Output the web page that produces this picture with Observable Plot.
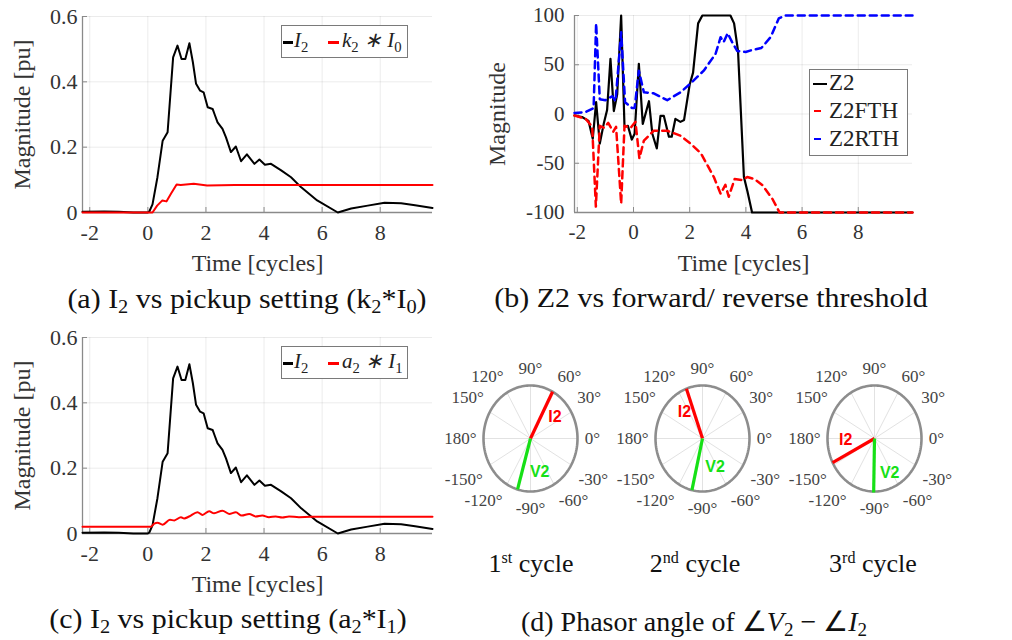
<!DOCTYPE html>
<html>
<head>
<meta charset="utf-8">
<script src="https://cdn.jsdelivr.net/npm/d3@7"></script>
<script src="https://cdn.jsdelivr.net/npm/@observablehq/plot@0.6"></script>
<style>
html,body{margin:0;padding:0;background:#fff;}
#fig{position:relative;width:1012px;height:640px;overflow:hidden;background:#fff;}
.panel{position:absolute;}
.panel svg{display:block;overflow:visible;}
.cap{position:absolute;line-height:1;text-align:center;white-space:nowrap;color:#111;font-family:"Liberation Serif",serif;transform-origin:50% 80%;}
.cap sub{font-size:0.68em;vertical-align:baseline;position:relative;top:0.3em;line-height:0;}
.cap sup{font-size:0.62em;vertical-align:baseline;position:relative;top:-0.55em;line-height:0;}
.leg{position:absolute;border:1px solid #7a7a7a;background:#fff;box-sizing:border-box;}
.lt{position:absolute;line-height:1;white-space:nowrap;color:#222;font-family:"Liberation Serif",serif;}
.lt sub{font-size:0.7em;position:relative;top:0.3em;vertical-align:baseline;line-height:0;font-style:normal;}
.sw{position:absolute;}
</style>
</head>
<body>
<div id="fig"></div>
<script>
// ---------------- data ----------------
const xTicks = [-2, 0, 2, 4, 6, 8];
const magTicks = [0, 0.2, 0.4, 0.6];
const z2Ticks = [-100, -50, 0, 50, 100];

// I2 magnitude (panels a and c)
const i2T = [-2.25, -1.5, -1.0, -0.5, 0, 0.05, 0.16, 0.33, 0.51, 0.68, 0.87, 1.02, 1.16, 1.29, 1.43, 1.55, 1.66, 1.80, 1.92, 2.06, 2.23, 2.30, 2.40, 2.57, 2.69, 2.86, 3.03, 3.21, 3.41, 3.67, 3.84, 4.03, 4.24, 4.59, 4.93, 5.28, 5.83, 6.54, 7.0, 7.57, 8.15, 8.72, 9.2, 9.8];
const i2V = [0.002, 0.003, 0.002, 0.0, 0.0, 0.003, 0.025, 0.108, 0.22, 0.246, 0.475, 0.511, 0.47, 0.47, 0.518, 0.46, 0.394, 0.373, 0.368, 0.322, 0.317, 0.30, 0.276, 0.256, 0.23, 0.185, 0.202, 0.157, 0.178, 0.149, 0.162, 0.146, 0.149, 0.129, 0.108, 0.077, 0.037, 0.0, 0.012, 0.021, 0.030, 0.028, 0.022, 0.014];

// k2*I0 (panel a)
const k2I0T = [-2.25, 0, 0.16, 0.32, 0.50, 0.64, 0.80, 0.99, 1.13, 1.58, 2.04, 3.0, 4.0, 6.0, 9.8];
const k2I0V = [0.0, 0.0, 0.0, 0.021, 0.037, 0.034, 0.058, 0.086, 0.084, 0.088, 0.083, 0.084, 0.084, 0.084, 0.084];

// a2*I1 (panel c)
const a2I1T = [-2.25, 0.10, 0.22, 0.33, 0.51, 0.76, 0.91, 1.14, 1.25, 1.42, 1.71, 1.88, 2.11, 2.28, 2.57, 2.80, 3.03, 3.23, 3.49, 3.71, 3.94, 4.17, 4.40, 4.63, 4.86, 5.2, 5.6, 9.8];
const a2I1V = [0.021, 0.021, 0.030, 0.033, 0.027, 0.042, 0.040, 0.050, 0.046, 0.052, 0.065, 0.057, 0.068, 0.062, 0.070, 0.060, 0.065, 0.055, 0.060, 0.052, 0.055, 0.050, 0.052, 0.049, 0.052, 0.050, 0.051, 0.051];

// Z2 (panel b)
const z2T = [-2.1, -1.83, -1.6, -1.45, -1.33, -1.2, -1.06, -0.94, -0.82, -0.70, -0.58, -0.44, -0.32, -0.2, -0.06, 0.04, 0.19, 0.33, 0.55, 0.67, 0.83, 0.96, 1.08, 1.26, 1.36, 1.49, 1.67, 1.8, 2.0, 2.12, 2.3, 2.45, 3.45, 3.58, 3.72, 3.93, 4.05, 4.22, 9.93];
const z2V = [-1.5, -3, -7, -25, 12, -30, -10, 4, 56, 3, 20, 100, -13, -12, -26, -20, 51, -10, 13, -20, -35, -2, -2, -23, -23, -5, -8, -6, 30, 42, 92, 100, 100, 92, 64, -64, -78, -100, -100];

// Z2FTH (panel b)
const z2fT = [-2.1, -1.7, -1.47, -1.34, -1.2, -1.05, -0.9, -0.72, -0.62, -0.44, -0.32, -0.1, 0.07, 0.21, 0.37, 0.72, 1.2, 1.67, 2.03, 2.4, 2.86, 3.1, 3.27, 3.39, 3.6, 3.85, 4.05, 4.3, 4.58, 4.94, 5.2, 9.93];
const z2fV = [-1.5, -5, -13, -94, -12, -14, -9, -18, -13, -91, -12, -14, -8, -45, -27, -17, -17, -22, -30, -40, -64, -81, -72, -84, -66, -67, -64, -66, -72, -86, -100, -100];

// Z2RTH (panel b)
const z2rT = [-2.1, -1.7, -1.42, -1.33, -1.2, -1.0, -0.76, -0.64, -0.44, -0.3, -0.05, 0.04, 0.19, 0.37, 0.72, 1.2, 1.67, 2.03, 2.5, 2.92, 3.1, 3.21, 3.35, 3.51, 3.69, 3.99, 4.22, 4.55, 4.88, 5.17, 5.4, 9.93];
const z2rV = [1, 2, 6, 92, 15, 14, 18, 13, 83, 12, 6, 6, 44, 22, 21, 14, 22, 31, 44, 61, 78, 73, 82, 73, 64, 63, 65, 67, 78, 97, 100, 100];

// Phasors (panel d)
const cycleLabels = ["1<sup>st</sup> cycle", "2<sup>nd</sup> cycle", "3<sup>rd</sup> cycle"];
const polarTicks = [0, 30, 60, 90, 120, 150, 180, -150, -120, -90, -60, -30];
const i2Angle = [62, 110, 207];
const v2Angle = [-106, -103, -91];
const i2Mag = [1.0, 1.0, 1.0];
const v2Mag = [1.0, 1.0, 1.02];

// ---------------- layout / style ----------------
const RED = "#ff0000", BLUE = "#0000ff", GREEN = "#16e016";
const AX = "#8a8a8a";
const SERIF = "Liberation Serif";
const fig = document.getElementById("fig");
const zip = (t, v) => t.map((d, i) => ({t: d, v: v[i]}));

function place(node, left, top) {
  const d = document.createElement("div");
  d.className = "panel";
  d.style.left = left + "px";
  d.style.top = top + "px";
  d.appendChild(node);
  fig.appendChild(d);
}

function lineChart(o) {
  const pw = o.width - o.ml - o.mr, ph = o.height - o.mt - o.mb;
  const tlx = (o.xDomain[1] - o.xDomain[0]) * 5 / pw;
  const tly = (o.yDomain[1] - o.yDomain[0]) * 5 / ph;
  return Plot.plot({
    width: o.width, height: o.height,
    marginLeft: o.ml, marginRight: o.mr, marginTop: o.mt, marginBottom: o.mb,
    x: {domain: o.xDomain},
    y: {domain: o.yDomain},
    style: {fontFamily: SERIF, background: "transparent", overflow: "visible"},
    marks: [
      Plot.gridX(xTicks, {stroke: "#000", strokeOpacity: 0.08}),
      Plot.gridY(o.yTicks, {stroke: "#000", strokeOpacity: 0.08}),
      Plot.ruleY([o.yDomain[0]], {stroke: AX, strokeWidth: 1.3}),
      Plot.ruleX([o.xDomain[0]], {stroke: AX, strokeWidth: 1.3}),
      Plot.ruleX(xTicks, {x: d => d, y1: o.yDomain[0], y2: o.yDomain[0] + tly, stroke: AX}),
      Plot.ruleY(o.yTicks, {y: d => d, x1: o.xDomain[0], x2: o.xDomain[0] + tlx, stroke: AX}),
      ...o.series.map(s => Plot.line(zip(s.t, s.v), {
        x: "t", y: "v", stroke: s.color, strokeWidth: s.width,
        strokeDasharray: s.dash, curve: s.curve || "linear", strokeLinejoin: "round"
      })),
      Plot.axisX(xTicks, {tickSize: 0, tickPadding: 12, tickFormat: d => String(d), fontSize: o.tickFont, fontFamily: SERIF, color: "#333", label: null}),
      Plot.axisY(o.yTicks, {tickSize: 0, tickPadding: o.yPad, tickFormat: d => String(d), fontSize: o.tickFont, fontFamily: SERIF, color: "#333", label: null}),
      Plot.text(["Time [cycles]"], {frameAnchor: "bottom", lineAnchor: "middle", textAnchor: "middle", dy: 51, fontSize: 24, fontFamily: SERIF, fill: "#333"}),
      Plot.text([o.yLabel], {frameAnchor: "left", lineAnchor: "middle", textAnchor: "middle", dx: o.yLabelDx, rotate: -90, fontSize: 24, fontFamily: SERIF, fill: "#333"})
    ]
  });
}

// (a)
place(lineChart({
  width: 440, height: 290, ml: 82, mr: 8, mt: 16, mb: 78,
  xDomain: [-2.25, 9.8], yDomain: [0, 0.6], yTicks: magTicks,
  tickFont: 22, yPad: 5, yLabel: "Magnitude [pu]", yLabelDx: -60,
  series: [
    {t: i2T, v: i2V, color: "#000", width: 2},
    {t: k2I0T, v: k2I0V, color: RED, width: 2}
  ]
}), 0, 0);

// (b)
place(lineChart({
  width: 440, height: 290, ml: 94, mr: 8, mt: 15, mb: 78,
  xDomain: [-2.1, 9.93], yDomain: [-100, 100], yTicks: z2Ticks,
  tickFont: 21, yPad: 10, yLabel: "Magnitude", yLabelDx: -77,
  series: [
    {t: z2T, v: z2V, color: "#000", width: 2.2},
    {t: z2fT, v: z2fV, color: RED, width: 2.5, dash: "7,5"},
    {t: z2rT, v: z2rV, color: BLUE, width: 2.5, dash: "7,5"}
  ]
}), 480, 0);

// (c)
place(lineChart({
  width: 440, height: 290, ml: 82, mr: 8, mt: 16, mb: 78,
  xDomain: [-2.25, 9.8], yDomain: [0, 0.6], yTicks: magTicks,
  tickFont: 22, yPad: 5, yLabel: "Magnitude [pu]", yLabelDx: -60,
  series: [
    {t: i2T, v: i2V, color: "#000", width: 2},
    {t: a2I1T, v: a2I1V, color: RED, width: 2, curve: "monotone-x"}
  ]
}), 0, 321);

// (d) polar phasor plots
const PX = 47, PY = 53;
const rad = a => a * Math.PI / 180;
const sgn = v => Math.abs(v) < 1e-9 ? 0 : Math.sign(v);
function angLabelPos(a) {
  const c = Math.cos(rad(a)), s = Math.sin(rad(a));
  const hw = 4 * (`${a}°`).length;
  const px = 54 * c + hw * sgn(c) * Math.min(1, 2 * Math.abs(c));
  const py = 58 * s + 12 * sgn(s) * Math.min(1, 2 * Math.abs(s));
  return [px / PX, py / PY];
}
const labelOffsets = [
  [[13.5, 2], [15.7, 8]],
  [[-10, -2], [17.8, 2.6]],
  [[-7.8, -11], [15.6, 7.2]]
];
const polarCenters = [530, 702, 874];
function polarPlot(k) {
  const W = 172, H = 180;
  const xd = W / 2 / PX, yd = H / 2 / PY;
  const ring = d3.range(0, 361, 2);
  const spokes = d3.range(0, 360, 30);
  const ph = [
    {name: "I2", ang: i2Angle[k], mag: i2Mag[k], color: RED},
    {name: "V2", ang: v2Angle[k], mag: v2Mag[k], color: GREEN}
  ];
  return Plot.plot({
    width: W, height: H, margin: 0,
    x: {domain: [-xd, xd], axis: null},
    y: {domain: [-yd, yd], axis: null},
    style: {background: "transparent", overflow: "visible", fontFamily: SERIF},
    marks: [
      Plot.link(spokes, {x1: () => 0, y1: () => 0, x2: a => Math.cos(rad(a)), y2: a => Math.sin(rad(a)), stroke: "#e2e2e2", strokeWidth: 1}),
      Plot.line(ring, {x: a => Math.cos(rad(a)), y: a => Math.sin(rad(a)), stroke: "#8d8d8d", strokeWidth: 2.6}),
      ...ph.map(p => Plot.link([p], {
        x1: () => 0, y1: () => 0,
        x2: d => d.mag * Math.cos(rad(d.ang)), y2: d => d.mag * Math.sin(rad(d.ang)),
        stroke: p.color, strokeWidth: 3.2
      })),
      Plot.text(polarTicks, {
        x: a => angLabelPos(a)[0], y: a => angLabelPos(a)[1], text: a => `${a}°`,
        fontSize: 17, fontFamily: SERIF, fill: "#444"
      }),
      ...ph.map((p, j) => Plot.text([p], {
        x: d => d.mag * Math.cos(rad(d.ang)) / 2, y: d => d.mag * Math.sin(rad(d.ang)) / 2,
        text: "name", dx: labelOffsets[k][j][0], dy: labelOffsets[k][j][1],
        fill: p.color, fontFamily: "Liberation Sans", fontWeight: "bold", fontSize: 16
      }))
    ]
  });
}
polarCenters.forEach((cx, k) => place(polarPlot(k), cx - 86, 438 - 90));

// ---------------- legends ----------------
function box(l, t, w, h) {
  const d = document.createElement("div");
  d.className = "leg";
  Object.assign(d.style, {left: l + "px", top: t + "px", width: w + "px", height: h + "px"});
  fig.appendChild(d);
}
function swatch(l, t, w, h, color) {
  const d = document.createElement("div");
  d.className = "sw";
  Object.assign(d.style, {left: l + "px", top: t + "px", width: w + "px", height: h + "px", background: color});
  fig.appendChild(d);
}
function ltext(html, l, baseline, size, italic) {
  const d = document.createElement("div");
  d.className = "lt";
  d.innerHTML = html;
  Object.assign(d.style, {left: l + "px", top: (baseline - 0.8375 * size) + "px", fontSize: size + "px", fontStyle: italic ? "italic" : "normal"});
  fig.appendChild(d);
}
function mathLegend(top, second) {
  box(281, top, 127, 33);
  swatch(283, top + 16, 10, 2.5, "#000");
  ltext("I<sub>2</sub>", 294, top + 23, 21, true);
  swatch(328, top + 16, 11, 2.5, RED);
  ltext(second, 342, top + 23, 21, true);
}
mathLegend(25, "k<sub>2</sub> ∗ I<sub>0</sub>");
mathLegend(346, "a<sub>2</sub> ∗ I<sub>1</sub>");

box(809, 69, 99, 87);
swatch(813, 82.5, 14, 2.4, "#000");
swatch(814, 110, 7, 2.4, RED);
swatch(814, 137.5, 7, 2.4, BLUE);
ltext("Z2", 829, 90.7, 23, false);
ltext("Z2FTH", 829, 118.3, 23, false);
ltext("Z2RTH", 829, 146.7, 23, false);

// ---------------- captions ----------------
function cap(html, cx, baseline, size, transform) {
  const d = document.createElement("div");
  d.className = "cap";
  d.innerHTML = html;
  Object.assign(d.style, {left: (cx - 300) + "px", width: "600px", fontSize: size + "px", top: (baseline - 0.8375 * size) + "px"});
  if (transform) d.style.transform = transform;
  fig.appendChild(d);
}
cap("(a) I<sub>2</sub> vs pickup setting (k<sub>2</sub>*I<sub>0</sub>)", 247, 308, 28, "scaleX(1.07)");
cap("(b) Z2 vs forward/ reverse threshold", 711, 307, 28, "scaleX(1.07)");
cap("(c) I<sub>2</sub> vs pickup setting (a<sub>2</sub>*I<sub>1</sub>)", 228, 628, 28, "scaleX(1.07)");
cap("(d) Phasor angle of ∠<i>V</i><sub>2</sub> − ∠<i>I</i><sub>2</sub>", 694, 631, 28, null);
[531, 695, 873].forEach((cx, k) => cap(cycleLabels[k], cx, 573, 26, null));
</script>
</body>
</html>
